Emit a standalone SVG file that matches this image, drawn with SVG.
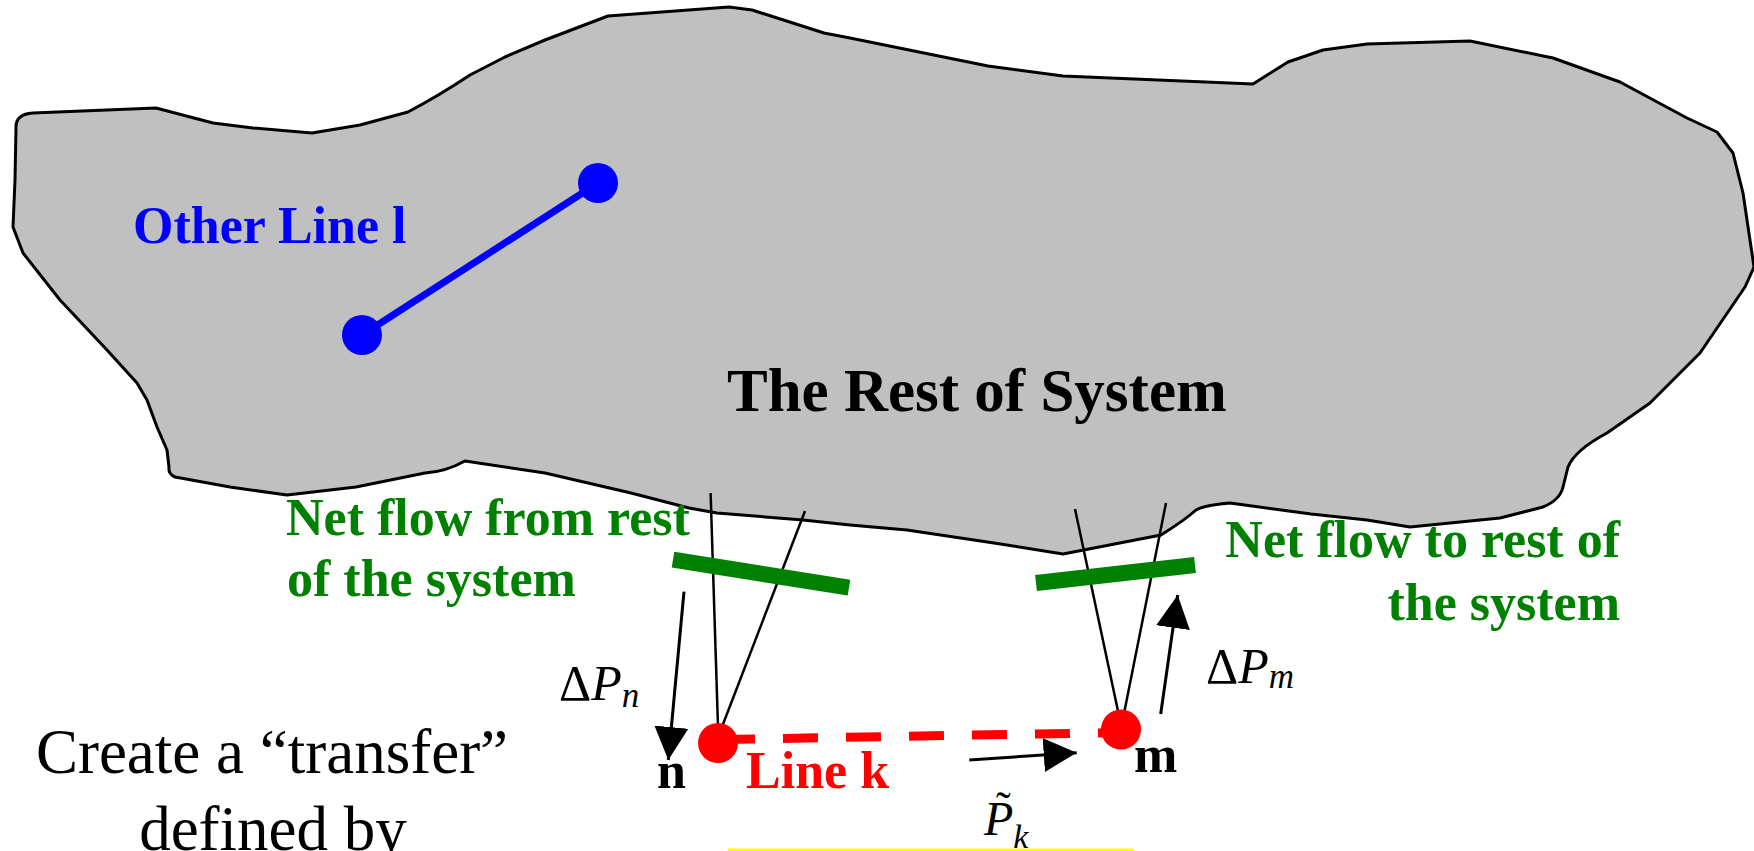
<svg xmlns="http://www.w3.org/2000/svg" width="1754" height="851" viewBox="0 0 1754 851">
<style>
.serif{font-family:"Liberation Serif","Times New Roman",serif}
.bold{font-weight:bold}
.green{fill:#008000}
.thin{stroke:#000;stroke-width:2.5;fill:none}
.arrow{stroke:#000;stroke-width:3;fill:none}
.bar{stroke:#008000;stroke-width:16;stroke-linecap:butt}
</style>
<defs>
<marker id="ah" markerUnits="userSpaceOnUse" markerWidth="34" markerHeight="34" refX="33" refY="17" orient="auto">
<path d="M0,0 L33,17 L0,34 Z" fill="#000"/>
</marker>
</defs>
<rect width="1754" height="851" fill="#fff"/>
<g id="system">
<path d="M16,127 Q16,114 33,113 L156,108 L213,123 L253,128 L312,133 L360,125 L408,112 Q440,95 470,75 L505,57 L545,40 L608,16 L729,7 L752,10 L824,33 L850,38 L919,52 L988,66 L1063,76 L1253,84 L1288,62 L1323,50 L1367,44 L1470,41 L1553,58 L1620,82 L1687,118 L1717,132 L1733,153 L1743,193 L1754,267 L1745,287 L1700,353 L1650,403 L1607,433 Q1575,450 1568,467 L1563,487 Q1560,500 1543,507 L1500,518 L1410,527 L1367,520 L1311,514 L1230,503 Q1205,505 1196,510 Q1185,520 1161,535 L1063,554 L994,543 L907,530 L850,525 L803,520 L717,513 L689,508 L631,493 L545,473 L465,461 Q445,472 425,473 L356,487 L287,495 L230,487 L175,477 Q168,474 169,467 L167,450 L157,427 L147,400 L137,383 L107,350 L60,300 L23,253 L13,227 L15,180 Z" fill="#C0C0C0" stroke="#000" stroke-width="3" stroke-linejoin="round"/>
<text class="serif bold" x="727" y="411" font-size="61" fill="#000">The Rest of System</text>
</g>
<g id="other-line">
<line x1="598" y1="183" x2="362" y2="335" stroke="#0000FF" stroke-width="7"/>
<circle cx="598" cy="183" r="20" fill="#0000FF"/>
<circle cx="362" cy="335" r="20" fill="#0000FF"/>
<text class="serif bold" x="133" y="243" font-size="52" fill="#0000FF">Other Line l</text>
</g>
<g id="connectors">
<line class="thin" x1="710.6" y1="493" x2="718" y2="727"/>
<line class="thin" x1="805" y1="511" x2="722.7" y2="725"/>
<line class="thin" x1="1075" y1="509" x2="1118" y2="711"/>
<line class="thin" x1="1166" y1="503" x2="1124.5" y2="711"/>
<line class="arrow" x1="684" y1="591.7" x2="668.3" y2="760" marker-end="url(#ah)"/>
<line class="arrow" x1="1160.7" y1="714" x2="1177.7" y2="595" marker-end="url(#ah)"/>
<line class="arrow" x1="969.3" y1="760" x2="1076.7" y2="752.7" marker-end="url(#ah)"/>
<line x1="720" y1="739.5" x2="1120" y2="732.5" stroke="#FF0000" stroke-width="9" stroke-dasharray="35 28"/>
</g>
<g id="cut-from">
<line class="bar" x1="673" y1="559.7" x2="849" y2="587.7"/>
<text class="serif bold green" x="286" y="535" font-size="52">Net flow from rest</text>
<text class="serif bold green" x="287" y="596" font-size="52">of the system</text>
</g>
<g id="cut-to">
<line class="bar" x1="1036" y1="583" x2="1195" y2="565"/>
<text class="serif bold green" x="1620" y="557" font-size="52" text-anchor="end">Net flow to rest of</text>
<text class="serif bold green" x="1620" y="620" font-size="52" text-anchor="end">the system</text>
</g>
<g id="node-n">
<circle cx="718" cy="743" r="20" fill="#FF0000"/>
<text class="serif bold" x="657" y="788" font-size="52">n</text>
<text class="serif" x="559" y="700" font-size="50">Δ<tspan font-style="italic">P</tspan><tspan font-style="italic" font-size="35" dy="7">n</tspan></text>
</g>
<g id="node-m">
<circle cx="1121" cy="729.5" r="20" fill="#FF0000"/>
<text class="serif bold" x="1134" y="772" font-size="52">m</text>
<text class="serif" x="1206" y="683" font-size="50">Δ<tspan font-style="italic">P</tspan><tspan font-style="italic" font-size="35" dy="5">m</tspan></text>
</g>
<g id="line-k">
<text class="serif bold" x="746" y="788" font-size="52" fill="#FF0000">Line k</text>
<text class="serif" x="984" y="835" font-size="48" font-style="italic">P<tspan font-size="34" dy="13">k</tspan><tspan x="996" y="822" font-size="44" font-style="normal">˜</tspan></text>
</g>
<g id="transfer">
<text class="serif" x="272" y="773" font-size="63" text-anchor="middle">Create a “transfer”</text>
<text class="serif" x="273" y="850" font-size="63" text-anchor="middle">defined by</text>
<line x1="728" y1="850" x2="1133" y2="850" stroke="#FFFF00" stroke-width="3"/>
</g>
</svg>
